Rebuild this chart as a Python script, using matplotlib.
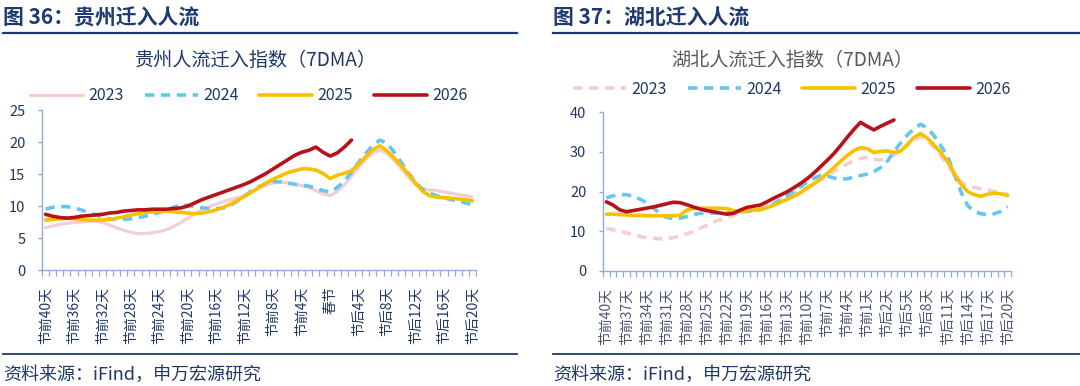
import matplotlib
matplotlib.use('Agg')
import numpy as np
import matplotlib.pyplot as plt
from matplotlib.lines import Line2D

plt.rcParams['font.family'] = ['Noto Sans CJK SC', 'DejaVu Sans']

# ---------------- data ----------------
days = list(range(-40, 21))

gz_2023 = [6.6, 6.9, 7.1, 7.3, 7.4, 7.5, 7.6, 7.6, 7.4, 7.0,
           6.6, 6.2, 5.9, 5.7, 5.7, 5.8, 6.0, 6.3, 6.8, 7.4,
           8.1, 8.8, 9.4, 9.9, 10.3, 10.7, 11.0, 11.3, 11.6, 12.2,
           12.8, 13.3, 13.6, 13.7, 13.6, 13.4, 13.2, 12.9, 12.4, 11.9,
           11.6, 12.3, 13.3, 14.6, 16.0, 17.3, 18.3, 18.7, 18.2, 17.1,
           15.8, 14.5, 13.3, 12.7, 12.5, 12.4, 12.2, 12.0, 11.8, 11.6, 11.4]
gz_2024 = [9.5, 9.8, 9.9, 9.9, 9.7, 9.4, 9.0, 8.6, 8.3, 8.0,
           7.9, 7.9, 8.0, 8.2, 8.4, 8.7, 9.0, 9.4, 9.8, 10.2,
           10.1, 9.9, 9.7, 9.6, 9.6, 9.7, 10.1, 10.8, 11.6, 12.4,
           13.0, 13.5, 13.8, 13.8, 13.6, 13.4, 13.3, 13.1, 12.8, 12.4,
           12.2, 12.9, 13.9, 15.3, 16.8, 18.2, 19.5, 20.3, 19.8, 18.4,
           16.8, 15.2, 13.7, 12.6, 12.0, 11.6, 11.3, 11.0, 10.8, 10.5, 10.2]
gz_2025 = [7.8, 7.9, 8.0, 8.1, 8.0, 7.9, 7.8, 7.8, 7.8, 7.9,
           8.1, 8.3, 8.6, 8.8, 9.0, 9.1, 9.2, 9.2, 9.1, 9.0,
           8.9, 8.8, 8.9, 9.1, 9.4, 9.8, 10.3, 10.9, 11.5, 12.2,
           12.9, 13.6, 14.2, 14.7, 15.2, 15.5, 15.8, 15.8, 15.6, 15.1,
           14.3, 14.8, 15.1, 15.5, 16.5, 17.7, 18.8, 19.4, 18.6, 17.5,
           16.3, 15.0, 13.6, 12.3, 11.6, 11.4, 11.3, 11.2, 11.1, 11.0, 10.8]
gz_2026 = [8.7, 8.4, 8.2, 8.1, 8.2, 8.4, 8.5, 8.6, 8.7, 8.9,
           9.0, 9.2, 9.3, 9.4, 9.4, 9.5, 9.5, 9.5, 9.6, 9.7,
           10.0, 10.5, 11.0, 11.4, 11.8, 12.2, 12.6, 13.0, 13.4, 13.9,
           14.5, 15.1, 15.8, 16.5, 17.2, 17.9, 18.4, 18.7, 19.2, 18.4,
           17.8, 18.3, 19.2, 20.3]

hb_2023 = [10.7, 10.4, 10.0, 9.6, 9.1, 8.7, 8.4, 8.2, 8.1, 8.2,
           8.4, 8.8, 9.3, 9.9, 10.7, 11.5, 12.3, 12.9, 13.4, 14.0,
           14.6, 15.1, 15.5, 16.0, 16.6, 17.2, 17.9, 18.7, 19.5, 20.3,
           21.1, 22.0, 23.0, 24.0, 25.0, 26.0, 26.9, 27.7, 28.3, 28.6,
           28.1, 27.9, 28.5, 29.2, 30.2, 31.6, 33.0, 33.8, 32.8, 31.0,
           29.0, 26.8, 24.2, 22.4, 21.5, 21.0, 20.7, 20.4, 20.0, 19.7, 19.4]
hb_2024 = [18.4, 18.9, 19.2, 19.2, 18.8, 18.1, 17.2, 15.9, 14.5, 13.5,
           13.2, 13.3, 13.7, 14.2, 14.5, 14.6, 14.6, 14.6, 14.6, 14.7,
           14.9, 15.0, 15.1, 15.4, 15.9, 16.9, 17.9, 18.9, 20.0, 21.2,
           22.4, 23.3, 24.0, 23.9, 23.4, 23.1, 23.2, 23.6, 24.0, 24.4,
           25.0, 26.0, 27.6, 30.0, 32.2, 34.2, 35.8, 36.9, 36.0, 34.0,
           31.5, 29.0, 24.5, 20.0, 16.5, 15.0, 14.4, 14.2, 14.4, 15.0, 16.2]
hb_2025 = [14.3, 14.3, 14.2, 14.1, 14.0, 14.0, 13.9, 13.9, 13.9, 13.9,
           13.9, 14.0, 15.3, 15.7, 15.8, 15.8, 15.8, 15.8, 15.7, 15.2,
           15.0, 15.1, 15.3, 15.5, 15.9, 16.6, 17.3, 18.0, 18.8, 19.7,
           20.8, 21.9, 23.1, 24.5, 26.0, 27.6, 29.0, 30.3, 31.0, 30.8,
           29.8, 30.1, 30.2, 29.8, 30.2, 31.8, 33.6, 34.6, 33.4, 31.7,
           29.8, 27.6, 24.6, 21.9, 20.0, 19.2, 18.8, 19.3, 19.6, 19.4, 19.0]
hb_2026 = [17.4, 16.6, 15.4, 14.9, 15.2, 15.5, 15.8, 16.1, 16.5, 16.9,
           17.3, 17.2, 16.7, 16.1, 15.6, 15.2, 14.9, 14.6, 14.3, 14.5,
           15.3, 16.0, 16.3, 16.6, 17.4, 18.3, 19.1, 19.9, 20.9, 22.0,
           23.2, 24.6, 26.2, 27.8, 29.5, 31.5, 33.6, 35.6, 37.4, 36.4,
           35.5, 36.4, 37.2, 38.0]

years = ['2023', '2024', '2025', '2026']

gz_ticks = [-40, -36, -32, -28, -24, -20, -16, -12, -8, -4, 0, 4, 8, 12, 16, 20]
gz_ticklabels = ['节前40天', '节前36天', '节前32天', '节前28天', '节前24天', '节前20天',
                 '节前16天', '节前12天', '节前8天', '节前4天', '春节', '节后4天',
                 '节后8天', '节后12天', '节后16天', '节后20天']
hb_ticks = [-40, -37, -34, -31, -28, -25, -22, -19, -16, -13, -10, -7, -4, -1,
            2, 5, 8, 11, 14, 17, 20]
hb_ticklabels = ['节前40天', '节前37天', '节前34天', '节前31天', '节前28天', '节前25天',
                 '节前22天', '节前19天', '节前16天', '节前13天', '节前10天', '节前7天',
                 '节前4天', '节前1天', '节后2天', '节后5天', '节后8天', '节后11天',
                 '节后14天', '节后17天', '节后20天']

# ---------------- style ----------------
NAVY = '#1F3864'
SPINE = '#8FAADC'
C23 = '#F2CFD4'
C24 = '#63C7EE'
C25 = '#F7C100'
C26 = '#B7111A'

W, H = 1080, 386
fig = plt.figure(figsize=(W / 100, H / 100), dpi=100)


def fx(px):
    return px / W


def fy(py):
    return 1 - py / H


def draw_panel(rect, s23, s24, s25, s26, dashed23, ymax, ystep,
               ticks, ticklabels, label_color, legend_xy):
    ax = fig.add_axes(rect)
    st23 = (0, (2.6, 1.8)) if dashed23 else '-'
    lw = 2.6
    ax.plot(days, s23, color=C23, lw=lw if dashed23 else 2.3, ls=st23,
            solid_capstyle='round', label=years[0])
    ax.plot(days, s24, color=C24, lw=lw, ls=(0, (2.6, 1.8)), label=years[1])
    ax.plot(days, s25, color=C25, lw=lw, solid_capstyle='round', label=years[2])
    ax.plot(days[:len(s26)], s26, color=C26, lw=lw, solid_capstyle='round',
            label=years[3])
    ax.set_xlim(days[0] - 0.5, days[-1] + 0.5)
    ax.set_ylim(0, ymax)
    ax.set_yticks(np.arange(0, ymax + 0.1, ystep))
    for s in ('top', 'right'):
        ax.spines[s].set_visible(False)
    for s in ('left', 'bottom'):
        ax.spines[s].set_color(SPINE)
        ax.spines[s].set_linewidth(1.0)
    ax.tick_params(axis='y', colors=SPINE, length=3, width=1, labelsize=10.5,
                   labelcolor=NAVY, pad=9)
    ax.set_xticks(ticks)
    ax.set_xticklabels(ticklabels, rotation=90, fontsize=10, color=label_color)
    ax.set_xticks(np.arange(days[0] - 0.5, days[-1] + 0.6, 1.0), minor=True)
    ax.tick_params(axis='x', which='major', length=0, pad=12)
    ax.tick_params(axis='x', which='minor', length=4, width=0.9, colors=SPINE)
    leg = ax.legend(ncol=4, loc='center', bbox_to_anchor=legend_xy,
                    bbox_transform=fig.transFigure, frameon=False,
                    fontsize=11.5, handlelength=3.3, handletextpad=0.35,
                    columnspacing=1.3, borderaxespad=0)
    for t in leg.get_texts():
        t.set_color(NAVY)
    return ax


# left panel
ax1 = draw_panel([fx(42), fy(270), fx(476 - 42), (270 - 110) / H],
                 gz_2023, gz_2024, gz_2025, gz_2026, False, 25, 5,
                 gz_ticks, gz_ticklabels, NAVY, (fx(249), fy(96)))
# right panel
ax2 = draw_panel([fx(603), fy(271), fx(1011 - 603), (271 - 112) / H],
                 hb_2023, hb_2024, hb_2025, hb_2026, True, 40, 10,
                 hb_ticks, hb_ticklabels, '#4A5570', (fx(792), fy(89)))

# headers
fig.text(fx(3), fy(18), '图 36：贵州迁入人流', fontsize=15, fontweight='bold',
         color='#1F3A70', va='center', ha='left')
fig.text(fx(553), fy(18), '图 37：湖北迁入人流', fontsize=15, fontweight='bold',
         color='#1F3A70', va='center', ha='left')
for x0, x1 in ((3, 517), (553, 1080)):
    fig.add_artist(Line2D([fx(x0), fx(x1)], [fy(33), fy(33)], color='#1F3A70',
                          lw=1.6, transform=fig.transFigure))
    fig.add_artist(Line2D([fx(x0), fx(x1)], [fy(354), fy(354)], color='#1F3A70',
                          lw=1.3, transform=fig.transFigure))

# chart titles
fig.text(fx(256), fy(60), '贵州人流迁入指数（7DMA）', fontsize=13.8, color=NAVY,
         ha='center', va='center')
fig.text(fx(792), fy(60), '湖北人流迁入指数（7DMA）', fontsize=13.8, color='#595959',
         ha='center', va='center')

# footers
fig.text(fx(3), fy(375), '资料来源：iFind，申万宏源研究', fontsize=13, color=NAVY,
         ha='left', va='center')
fig.text(fx(553), fy(375), '资料来源：iFind，申万宏源研究', fontsize=13, color=NAVY,
         ha='left', va='center')

fig.savefig('out.png', dpi=100, facecolor='white')
